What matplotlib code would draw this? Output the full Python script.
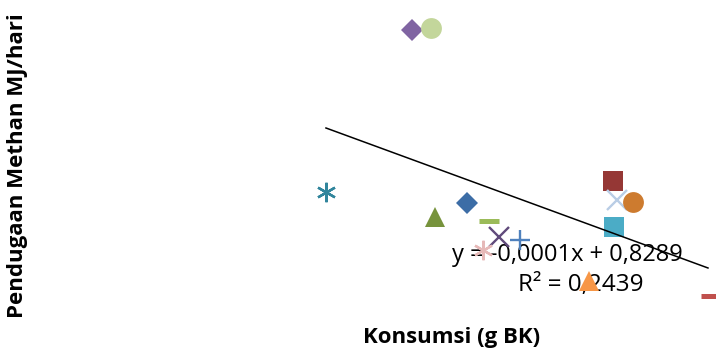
import matplotlib.pyplot as plt
import numpy as np

# konsumsi (g BK) vs pendugaan methan (MJ/hari)
konsumsi = [2175, 2325, 1500, 2607, 2356, 2780, 2859, 3023, 2733,
            3754, 3785, 3911, 3762, 3565, 4523]
methan = [0.889, 0.893, 0.542, 0.518, 0.488, 0.480, 0.445, 0.439, 0.418,
          0.565, 0.525, 0.520, 0.467, 0.351, 0.319]
markers = ['D', 'o', (6, 2, 0), 'D', '^', '_', 'x', '+', (6, 2, 0),
           's', 'x', 'o', 's', '^', '_']
colors = ['#8064A2', '#C3D69B', '#31859C', '#3C6DA6', '#77933C', '#9BBB59',
          '#604A7B', '#4F81BD', '#E6B9B8', '#953735', '#B9CDE5', '#CD7B2F',
          '#4BACC6', '#F79646', '#C0504D']

# trendline from the fitted equation
slope = -0.0001
intercept = 0.8289
r2 = 0.2439

f = plt.figure(figsize=(7.16, 3.53), dpi=100)
ax = f.add_axes([0, 0, 1, 1])
ax.set_xlim(-1060, 4563)
ax.set_ylim(0.1967, 0.9532)
ax.axis('off')

xl = np.array([1500, 4500])
ax.plot(xl, slope*xl + intercept, color='black', lw=1.1, zorder=3)

for x, y, m, c in zip(konsumsi, methan, markers, colors):
    if m == '_':
        ax.plot(x, y, marker=m, color=c, ms=14, mew=3.6, ls='none', zorder=2)
    elif m in ['x', '+'] or isinstance(m, tuple):
        ax.plot(x, y, marker=m, color=c, ms=14, mew=1.7, ls='none', zorder=2)
    elif m == 'D':
        ax.plot(x, y, marker=m, color=c, ms=11, mew=0, ls='none', zorder=2)
    else:
        ax.plot(x, y, marker=m, color=c, ms=15, mew=0, ls='none', zorder=2)

# equation label sits under the markers and the line
ax.text(567/716, 1-255/353, 'y = -0,0001x + 0,8289', transform=ax.transAxes,
        ha='center', va='center', size=17, family='Open Sans', zorder=1)
ax.text(581/716, 1-285/353, 'R² = %s' % str(r2).replace('.', ','),
        transform=ax.transAxes, ha='center', va='center', size=17.5,
        family='Open Sans', zorder=1)

f.text(18/716, 1-166/353, 'Pendugaan Methan MJ/hari', rotation=90,
       ha='center', va='center', size=16, weight='bold', family='Open Sans')
f.text(452/716, 1-338/353, 'Konsumsi (g BK)', ha='center', va='center',
       size=16, weight='bold', family='Open Sans')

plt.savefig('out.png', dpi=100)
